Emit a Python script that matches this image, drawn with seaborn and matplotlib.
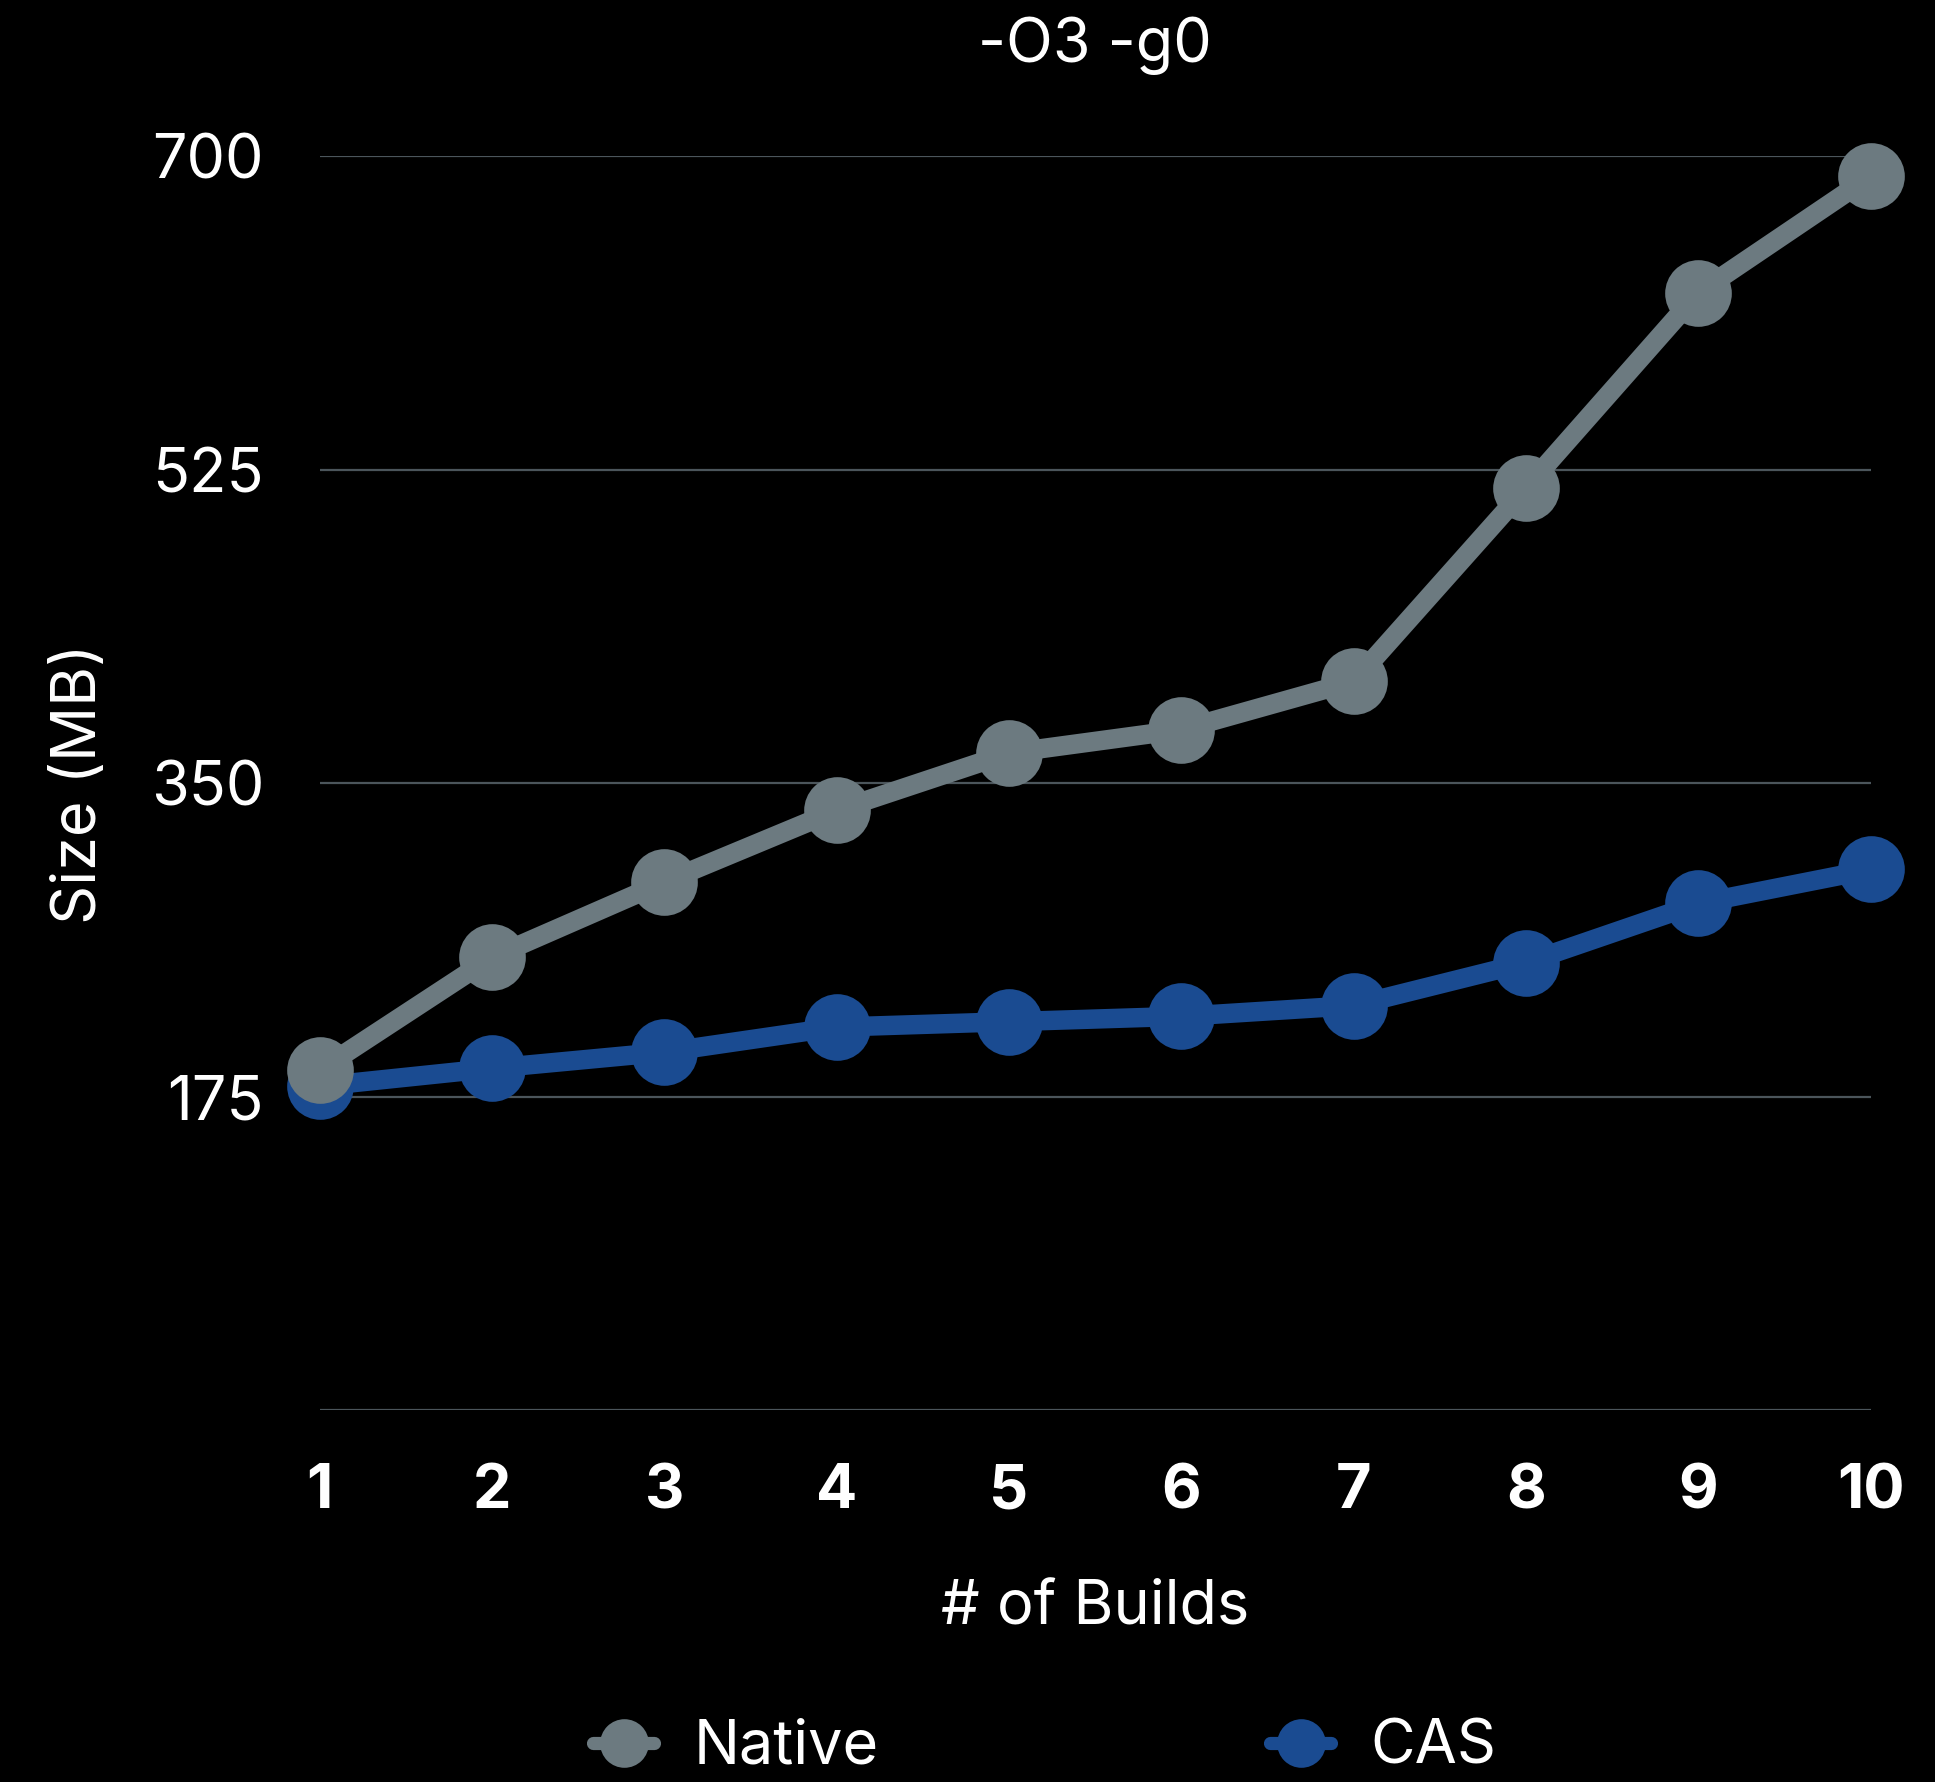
import matplotlib
matplotlib.use("Agg")
import matplotlib.pyplot as plt
import seaborn as sns
import pandas as pd

# Build counts and on-disk size (MB) for each storage mode
builds = [1, 2, 3, 4, 5, 6, 7, 8, 9, 10]
native_mb = [190, 253, 295, 335, 367, 380, 407, 515, 624, 689]
cas_mb = [181, 191, 200, 214, 217, 220, 226, 250, 283, 302]
series_names = ["Native", "CAS"]
y_ticks = [0, 175, 350, 525, 700]
y_tick_labels = ["", "175", "350", "525", "700"]

df = pd.DataFrame({
    "Builds": builds * 2,
    "Size": native_mb + cas_mb,
    "Mode": [series_names[0]] * len(builds) + [series_names[1]] * len(builds),
})

sns.set_theme(style="dark")
plt.rcParams["font.family"] = ["Inter", "DejaVu Sans"]

BG = "#000000"
FG = "#ffffff"
palette = {"Native": "#6c7a80", "CAS": "#1a4b91"}
FS = 44

fig = plt.figure(figsize=(19.35, 17.82), dpi=100, facecolor=BG)
ax = fig.add_axes([0.1652, 0.2085, 0.8016, 0.7037])
ax.set_facecolor(BG)

sns.lineplot(data=df, x="Builds", y="Size", hue="Mode", palette=palette,
             hue_order=series_names, marker="o", markersize=48,
             markeredgewidth=0, linewidth=14, ax=ax, legend=False)

# Lines come out in hue order; keep Native above CAS where they overlap
for ln, z in zip(ax.lines, (4, 3)):
    ln.set_zorder(z)
    ln.set_clip_on(False)
    ln.set_solid_joinstyle("round")

ax.set_xlim(1, 10)
ax.set_ylim(0, 700)
ax.set_xticks(builds)
ax.set_xticklabels([str(b) for b in builds], fontsize=FS, fontweight="bold", color=FG)
ax.set_yticks(y_ticks)
ax.set_yticklabels(y_tick_labels, fontsize=FS, color=FG)
ax.tick_params(axis="x", length=0, pad=38)
ax.tick_params(axis="y", length=0, pad=40)

ax.grid(False)
ax.yaxis.grid(True, color="#4b555b", linewidth=1.6, zorder=0)
for s in ax.spines.values():
    s.set_visible(False)

ax.set_xlabel("# of Builds", fontsize=FS, color=FG)
ax.set_ylabel("Size (MB)", fontsize=FS, color=FG)
ax.xaxis.set_label_coords(0.5, -0.1352)
ax.yaxis.set_label_coords(-0.1361, 0.5)

fig.text(0.566, 1 - 45.6 / 1782, "-O3 -g0", fontsize=FS, color=FG,
         ha="center", va="center")

handles = [
    plt.Line2D([], [], color=palette[n], marker="o", markersize=35,
               linewidth=9.5, markeredgewidth=0) for n in series_names
]
leg = fig.legend(handles, series_names, loc="center", ncol=2,
                 bbox_to_anchor=(0.540, 1 - 1748 / 1782), frameon=False,
                 fontsize=FS, handlelength=1.0, handletextpad=0.65,
                 columnspacing=6.4)
for t in leg.get_texts():
    t.set_color(FG)

fig.savefig("out.png", dpi=100, facecolor=BG)
